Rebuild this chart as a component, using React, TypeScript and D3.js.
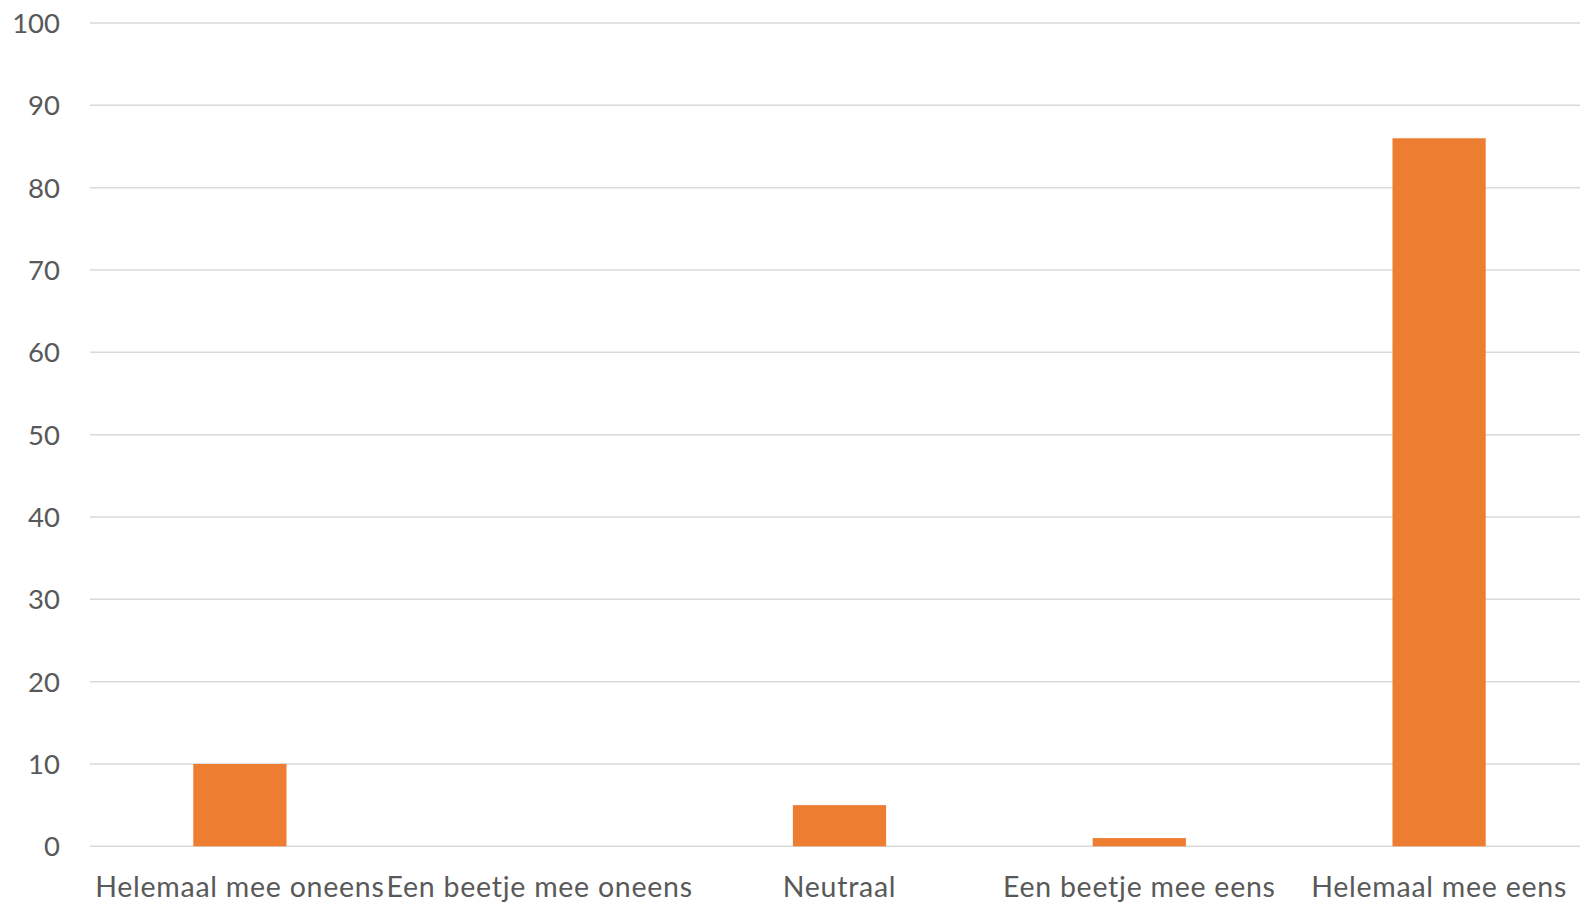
import React from "react";
import * as d3 from "d3";

const categories = [
  "Helemaal mee oneens",
  "Een beetje mee oneens",
  "Neutraal",
  "Een beetje mee eens",
  "Helemaal mee eens",
];
const values = [10, 0, 5, 1, 86];
const yTicks = [0, 10, 20, 30, 40, 50, 60, 70, 80, 90, 100];

const W = 1580;
const H = 904;
const M = { left: 90, top: 23, bottom: 846.3 };
const plotRight = 90 + 5 * 299.8;

export default function App() {
  const x = d3
    .scaleBand<string>()
    .domain(categories)
    .range([M.left, plotRight])
    .paddingInner(0.689)
    .paddingOuter(0.3445);
  const y = d3.scaleLinear().domain([0, 100]).range([M.bottom, M.top]);
  const font = "Lato, 'Open Sans', sans-serif";
  const textColor = "#595959";

  return (
    <svg
      width={W}
      height={H}
      style={{ position: "absolute", left: 0, top: 0, background: "#fff" }}
    >
      <rect x={0} y={0} width={W} height={H} fill="#fff" />
      {yTicks.map((t) => (
        <g key={t}>
          <line
            x1={M.left}
            x2={W}
            y1={y(t)}
            y2={y(t)}
            stroke="#D9D9D9"
            strokeWidth={1.5}
          />
          <text
            x={60}
            y={y(t)}
            dy="0.36em"
            textAnchor="end"
            fontFamily={font}
            fontSize={27.5}
            fill={textColor}
          >
            {t}
          </text>
        </g>
      ))}
      {categories.map((c, i) => (
        <rect
          key={c}
          x={x(c)!}
          y={y(values[i])}
          width={x.bandwidth()}
          height={y(0) - y(values[i])}
          fill="#ED7D31"
        />
      ))}
      {categories.map((c) => (
        <text
          key={c}
          x={x(c)! + x.bandwidth() / 2}
          y={897}
          textAnchor="middle"
          fontFamily={font}
          fontSize={28.5}
          letterSpacing={0.75}
          fill={textColor}
        >
          {c}
        </text>
      ))}
    </svg>
  );
}
